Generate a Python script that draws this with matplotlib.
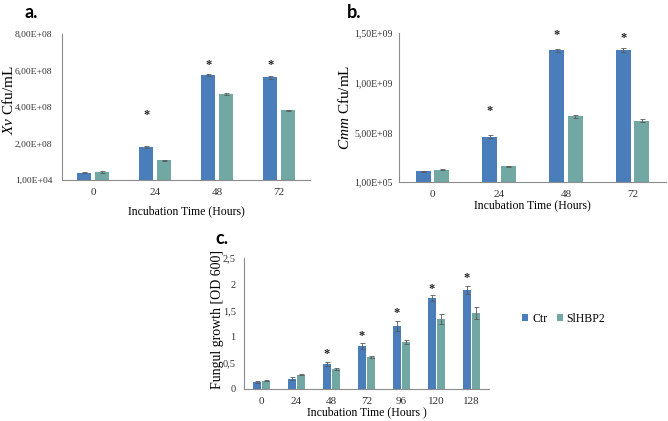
import matplotlib
matplotlib.use("Agg")
import matplotlib.pyplot as plt
import numpy as np
from matplotlib.patches import Patch

plt.rcParams['font.family'] = ['Liberation Serif', 'DejaVu Serif']
plt.rcParams['mathtext.fontset'] = 'custom'
plt.rcParams['mathtext.rm'] = 'Liberation Serif'
plt.rcParams['mathtext.it'] = 'Liberation Serif:italic'

# ---------------- data ----------------
series_names = ["Ctr", "SlHBP2"]

a_cats = ["0", "24", "48", "72"]
a_ctr = [4.0e7, 1.81e8, 5.75e8, 5.64e8]
a_ctr_err = [4e6, 5e6, 6e6, 8e6]
a_sl = [4.4e7, 1.08e8, 4.70e8, 3.81e8]
a_sl_err = [3e6, 3e6, 4e6, 4e6]
a_yticks = [1e4, 2e8, 4e8, 6e8, 8e8]
a_yticklabels = ["1,00E+04", "2,00E+08", "4,00E+08", "6,00E+08", "8,00E+08"]
a_star_idx = [1, 2, 3]
a_star_y = [3.57e8, 6.28e8, 6.28e8]

b_cats = ["0", "24", "48", "72"]
b_ctr = [1.08e8, 4.55e8, 1.325e9, 1.325e9]
b_ctr_err = [5e6, 1.5e7, 1.5e7, 2e7]
b_sl = [1.25e8, 1.58e8, 6.64e8, 6.17e8]
b_sl_err = [4e6, 4e6, 1.5e7, 1.5e7]
b_yticks = [1e5, 5e8, 1e9, 1.5e9]
b_yticklabels = ["1,00E+05", "5,00E+08", "1,00E+09", "1,50E+09"]
b_star_idx = [1, 2, 3]
b_star_y = [7.14e8, 1.476e9, 1.449e9]

c_cats = ["0", "24", "48", "72", "96", "120", "128"]
c_ctr = [0.134, 0.198, 0.47, 0.816, 1.205, 1.735, 1.89]
c_ctr_err = [0.015, 0.03, 0.04, 0.06, 0.09, 0.055, 0.08]
c_sl = [0.16, 0.274, 0.38, 0.61, 0.90, 1.34, 1.455]
c_sl_err = [0.01, 0.015, 0.02, 0.02, 0.035, 0.10, 0.11]
c_yticks = [0, 0.5, 1, 1.5, 2, 2.5]
c_yticklabels = ["0", "0,5", "1", "1,5", "2", "2,5"]
c_star_idx = [2, 3, 4, 5, 6]
c_star_y = [0.67, 1.015, 1.45, 1.91, 2.12]

col_ctr = "#4a7ebb"
col_sl = "#72a8a4"
axis_col = "#8c8c8c"
err_col = "#5a5a5a"

W, H = 668, 421
fig = plt.figure(figsize=(W / 100, H / 100), dpi=100)


def px_axes(l, t, r, b):
    return fig.add_axes([l / W, 1 - b / H, (r - l) / W, (b - t) / H])


def draw(ax, cats, ctr, ctr_err, sl, sl_err, ylim, yticks, yticklabels,
         star_idx, star_y, bw, gap, ytick_size, pad):
    x = np.arange(len(cats))
    off = (bw + gap) / 2
    ekw = dict(ecolor=err_col, elinewidth=0.6, capsize=1.8, capthick=0.6)
    ax.bar(x - off, ctr, bw, color=col_ctr, yerr=ctr_err, error_kw=ekw, label=series_names[0])
    ax.bar(x + off, sl, bw, color=col_sl, yerr=sl_err, error_kw=ekw, label=series_names[1])
    for i, sy in zip(star_idx, star_y):
        ax.text(i - off, sy, "*", ha="center", va="center", fontsize=9,
                fontweight="bold", color="#222222")
    ax.set_xlim(-0.5, len(cats) - 0.5)
    ax.set_ylim(*ylim)
    ax.set_xticks(x)
    ax.set_xticklabels(cats, fontsize=8)
    ax.set_yticks(yticks)
    ax.set_yticklabels(yticklabels, fontsize=ytick_size)
    for s in ["top", "right"]:
        ax.spines[s].set_visible(False)
    for s in ["left", "bottom"]:
        ax.spines[s].set_color(axis_col)
        ax.spines[s].set_linewidth(0.8)
    ax.tick_params(axis="both", length=0, colors="#333333")
    ax.tick_params(axis="y", pad=pad)
    ax.tick_params(axis="x", pad=6)


# panel a
ax_a = px_axes(62, 34, 310, 180)
draw(ax_a, a_cats, a_ctr, a_ctr_err, a_sl, a_sl_err, (1e4, 8e8), a_yticks,
     a_yticklabels, a_star_idx, a_star_y, 0.23, 0.05, 6.8, 7)
ax_a.set_xlabel("Incubation Time (Hours)", fontsize=8.5)
ax_a.xaxis.set_label_coords(0.5, (180 - 205) / 146)
ax_a.set_ylabel(r"$\it{Xv}$ Cfu/mL", fontsize=11)
ax_a.yaxis.set_label_coords((16 - 62) / 248, 0.55)

# panel b
ax_b = px_axes(399, 33, 666, 182)
draw(ax_b, b_cats, b_ctr, b_ctr_err, b_sl, b_sl_err, (1e5, 1.5e9), b_yticks,
     b_yticklabels, b_star_idx, b_star_y, 0.225, 0.05, 7, 4.5)
ax_b.set_xlabel("Incubation Time (Hours)", fontsize=8.5)
ax_b.xaxis.set_label_coords(0.5, (182 - 199) / 149)
ax_b.set_ylabel(r"$\it{Cmm}$ Cfu/mL", fontsize=11)
ax_b.yaxis.set_label_coords((352 - 399) / 267, 0.5)

# panel c
ax_c = px_axes(244, 258, 489, 389)
draw(ax_c, c_cats, c_ctr, c_ctr_err, c_sl, c_sl_err, (0, 2.5), c_yticks,
     c_yticklabels, c_star_idx, c_star_y, 0.22, 0.05, 7.5, 6)
ax_c.set_xlabel("Incubation Time (Hours )", fontsize=8.5)
ax_c.xaxis.set_label_coords(0.5, (389 - 406) / 131)
ax_c.set_ylabel("Fungul growth [OD 600]", fontsize=10)
ax_c.yaxis.set_label_coords((224 - 244) / 245, 0.53)

# legend
handles = [Patch(facecolor=col_ctr, label=series_names[0]),
           Patch(facecolor=col_sl, label=series_names[1])]
fig.legend(handles=handles, loc="center left", bbox_to_anchor=(522 / W, 1 - 319 / H),
           ncol=2, frameon=False, fontsize=8.5, handlelength=0.55, handleheight=0.55,
           handletextpad=0.3, columnspacing=0.8, borderpad=0, borderaxespad=0)

# panel letters
for txt, xx, yy in [("a.", 25, 12), ("b.", 347, 12), ("c.", 215, 239)]:
    fig.text(xx / W, 1 - yy / H, txt, fontsize=13, fontweight="bold",
             family=["Lato", "DejaVu Sans"], ha="left", va="center")

fig.savefig("out.png", dpi=100)
